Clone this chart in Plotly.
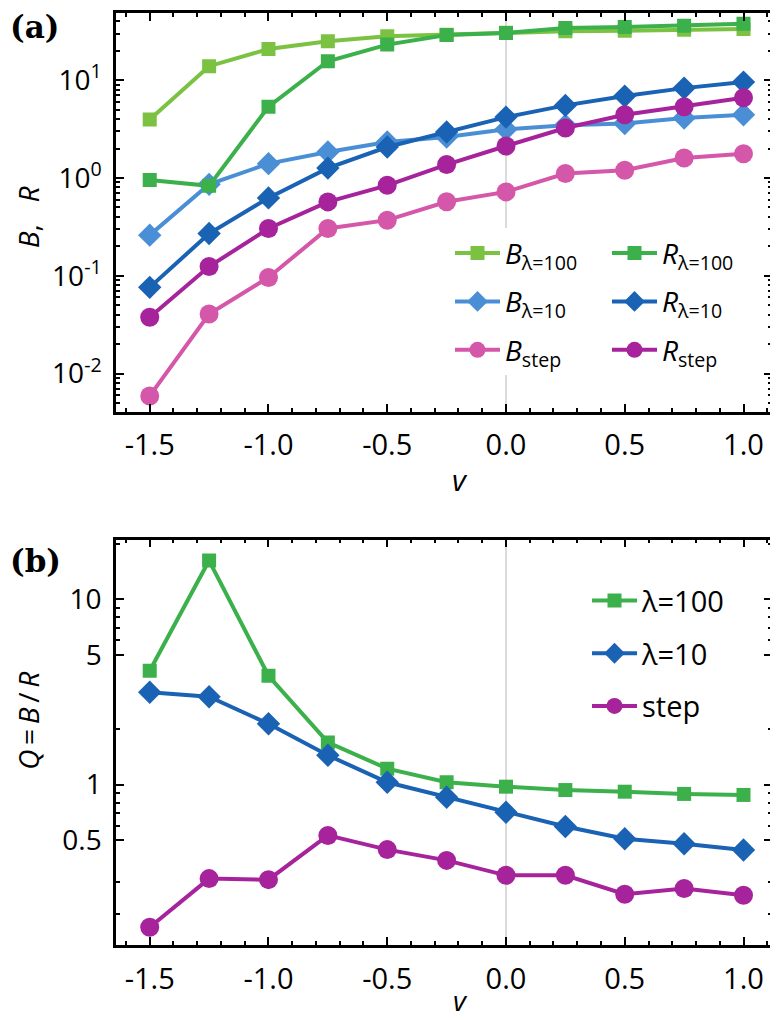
import plotly.graph_objects as go

# ---------------- data ----------------
v = [-1.5, -1.25, -1.0, -0.75, -0.5, -0.25, 0.0, 0.25, 0.5, 0.75, 1.0]
B_lam100 = [3.96, 13.9, 20.8, 25.0, 28.1, 29.2, 30.5, 31.6, 32.0, 32.8, 33.3]
R_lam100 = [0.95, 0.83, 5.35, 15.6, 23.1, 29.0, 30.4, 34.2, 35.0, 36.1, 37.8]
B_lam10 = [0.26, 0.86, 1.40, 1.84, 2.33, 2.62, 3.14, 3.45, 3.6, 4.1, 4.43]
R_lam10 = [0.076, 0.27, 0.625, 1.26, 2.07, 2.95, 4.19, 5.52, 6.87, 8.29, 9.55]
B_step = [0.0059, 0.0406, 0.096, 0.304, 0.37, 0.57, 0.72, 1.11, 1.2, 1.6, 1.77]
R_step = [0.0376, 0.124, 0.304, 0.569, 0.84, 1.37, 2.12, 3.24, 4.43, 5.35, 6.6]
Q_lam100 = [4.12, 16.2, 3.87, 1.69, 1.22, 1.03, 0.975, 0.935, 0.916, 0.891, 0.88]
Q_lam10 = [3.15, 2.98, 2.13, 1.44, 1.03, 0.855, 0.71, 0.594, 0.51, 0.48, 0.444]
Q_step = [0.17, 0.311, 0.307, 0.532, 0.446, 0.39, 0.324, 0.324, 0.256, 0.275, 0.253]

x_tickvals = [-1.5, -1.0, -0.5, 0.0, 0.5, 1.0]
x_ticktext = ["-1.5", "-1.0", "-0.5", "0.0", "0.5", "1.0"]
ya_tickvals = [0.01, 0.1, 1, 10]
ya_ticktext = ["10<sup>-2</sup>", "10<sup>-1</sup>", "10<sup>0</sup>", "10<sup>1</sup>"]
yb_tickvals = [0.5, 1, 5, 10]
yb_ticktext = ["0.5", "1", "5", "10"]

# ---------------- style ----------------
OFF = 8  # default body margin of the html page
W, H = 778 - OFF, 1020 - OFF
ML, MR, MT, MB = 116 - OFF, 6, 2, 75
PW, PH = W - ML - MR, H - MT - MB
FONT = "Open Sans"

def px_x(p):
    return (p - OFF - ML) / PW

def px_y(p):
    return (H - MB - (p - OFF)) / PH

C_B100 = "#7cc242"
C_R100 = "#3bb04b"
C_B10 = "#4a8fd6"
C_R10 = "#1a63b4"
C_BS = "#d557a9"
C_RS = "#a6239c"

fig = go.Figure()

def add(y, name, color, symbol, size, xa, ya, legend, group):
    fig.add_trace(go.Scatter(
        x=v, y=y, name=name, mode="lines+markers",
        line=dict(color=color, width=4),
        marker=dict(symbol=symbol, size=size, color=color),
        xaxis=xa, yaxis=ya, legend=legend, legendgroup=group,
    ))

add(B_lam100, "<i>B</i><sub>λ=100</sub>", C_B100, "square", 14, "x", "y", "legend", "a1")
add(B_lam10, "<i>B</i><sub>λ=10</sub>", C_B10, "diamond", 18, "x", "y", "legend", "a2")
add(B_step, "<i>B</i><sub>step</sub>", C_BS, "circle", 19, "x", "y", "legend", "a3")
add(R_lam100, "<i>R</i><sub>λ=100</sub>", C_R100, "square", 14, "x", "y", "legend2", "b1")
add(R_lam10, "<i>R</i><sub>λ=10</sub>", C_R10, "diamond", 18, "x", "y", "legend2", "b2")
add(R_step, "<i>R</i><sub>step</sub>", C_RS, "circle", 19, "x", "y", "legend2", "b3")

add(Q_lam100, "λ=100", C_R100, "square", 14, "x2", "y2", "legend3", "c1")
add(Q_lam10, "λ=10", C_R10, "diamond", 18, "x2", "y2", "legend3", "c2")
add(Q_step, "step", C_RS, "circle", 19, "x2", "y2", "legend3", "c3")

# x range: tick -1.5 at page px 149.5, 1.0 at 743.3
xrange = [-1.642, 1.12]
axis_common = dict(
    showline=True, linecolor="black", linewidth=2.5, mirror="allticks",
    ticks="inside", ticklen=8, tickwidth=2, tickcolor="black",
    showgrid=False, zeroline=False,
    tickfont=dict(family=FONT, size=28, color="black"),
)
xaxis_common = dict(axis_common, range=xrange, tickmode="array",
                    tickvals=x_tickvals, ticktext=x_ticktext,
                    tickfont=dict(family=FONT, size=29, color="black"),
                    minor=dict(dtick=0.1, tick0=0, ticks="inside", ticklen=4,
                               tickwidth=2, tickcolor="black"),
                    ticklabelstandoff=6)

top_dom = [px_y(410), 1.0]
bot_dom = [0.0, px_y(538.3)]

# top y: decade = 98 px, 10^1 at page y 77.3
top_px = OFF + MT
ya_range = [-2.0 - (410 - 371.7) / 98.0, 1.0 + (77.3 - top_px) / 98.0]

minor_a = [m * 10 ** e for e in range(-3, 2) for m in range(2, 10)]
minor_b = [0.2, 0.3, 0.6, 0.7, 0.8, 0.9, 2, 6, 7, 8, 9, 20]

fig.update_layout(
    width=W, height=H,
    margin=dict(l=ML, r=MR, t=MT, b=MB),
    paper_bgcolor="white", plot_bgcolor="white",
    font=dict(family=FONT, size=26, color="black"),
    xaxis=dict(xaxis_common, domain=[0, 1], anchor="y"),
    yaxis=dict(axis_common, type="log", domain=top_dom, anchor="x",
               range=ya_range, tickmode="array",
               tickvals=ya_tickvals, ticktext=ya_ticktext,
               minor=dict(tickvals=minor_a, ticks="inside", ticklen=4,
                          tickwidth=2, tickcolor="black"),
               ticklabelstandoff=6),
    xaxis2=dict(xaxis_common, domain=[0, 1], anchor="y2"),
    yaxis2=dict(axis_common, type="log", domain=bot_dom, anchor="x2",
                range=[-0.8656, 1.3226], tickmode="array",
                tickvals=yb_tickvals, ticktext=yb_ticktext,
                minor=dict(tickvals=minor_b, ticks="inside", ticklen=4,
                           tickwidth=2, tickcolor="black"),
                ticklabelstandoff=6),
    legend=dict(x=px_x(450), y=px_y(226), xanchor="left", yanchor="top",
                bgcolor="white", borderwidth=0, tracegroupgap=9,
                font=dict(family=FONT, size=28), itemwidth=45),
    legend2=dict(x=px_x(607), y=px_y(226), xanchor="left", yanchor="top",
                 bgcolor="white", borderwidth=0, tracegroupgap=9,
                 font=dict(family=FONT, size=28), itemwidth=45),
    legend3=dict(x=px_x(587), y=px_y(574), xanchor="left", yanchor="top",
                 bgcolor="rgba(0,0,0,0)", borderwidth=0, tracegroupgap=12,
                 font=dict(family=FONT, size=29), itemwidth=45),
    showlegend=True,
)

fig.add_shape(type="line", x0=0, x1=0, y0=0, y1=1, xref="x", yref="y domain",
              line=dict(color="#b8b8b8", width=1), layer="below")
fig.add_shape(type="line", x0=0, x1=0, y0=0, y1=1, xref="x2", yref="y2 domain",
              line=dict(color="#b8b8b8", width=1), layer="below")

def ann(text, x, y, size, angle=0, xanchor="center", family=FONT):
    fig.add_annotation(text=text, x=px_x(x), y=px_y(y), xref="paper", yref="paper",
                       showarrow=False, textangle=angle, xanchor=xanchor,
                       yanchor="middle", font=dict(family=family, size=size, color="black"))

NB = "\u00a0"
TH = "\u2009"
ann("<b>(a)</b>", 8, 24, 31, xanchor="left", family="DejaVu Serif")
ann("<b>(b)</b>", 8, 560, 31, xanchor="left", family="DejaVu Serif")
ann("<i>B</i>," + NB * 3 + "<i>R</i>", 28, 215, 28, angle=-90)
ann("<i>Q</i>" + TH + "=" + TH + "<i>B</i>" + TH + "/" + TH + "<i>R</i>", 28, 720, 28, angle=-90)
ann("<i>v</i>", 460, 478, 30)
ann("<i>v</i>", 460, 1000, 28)

fig.write_html("out.html")
